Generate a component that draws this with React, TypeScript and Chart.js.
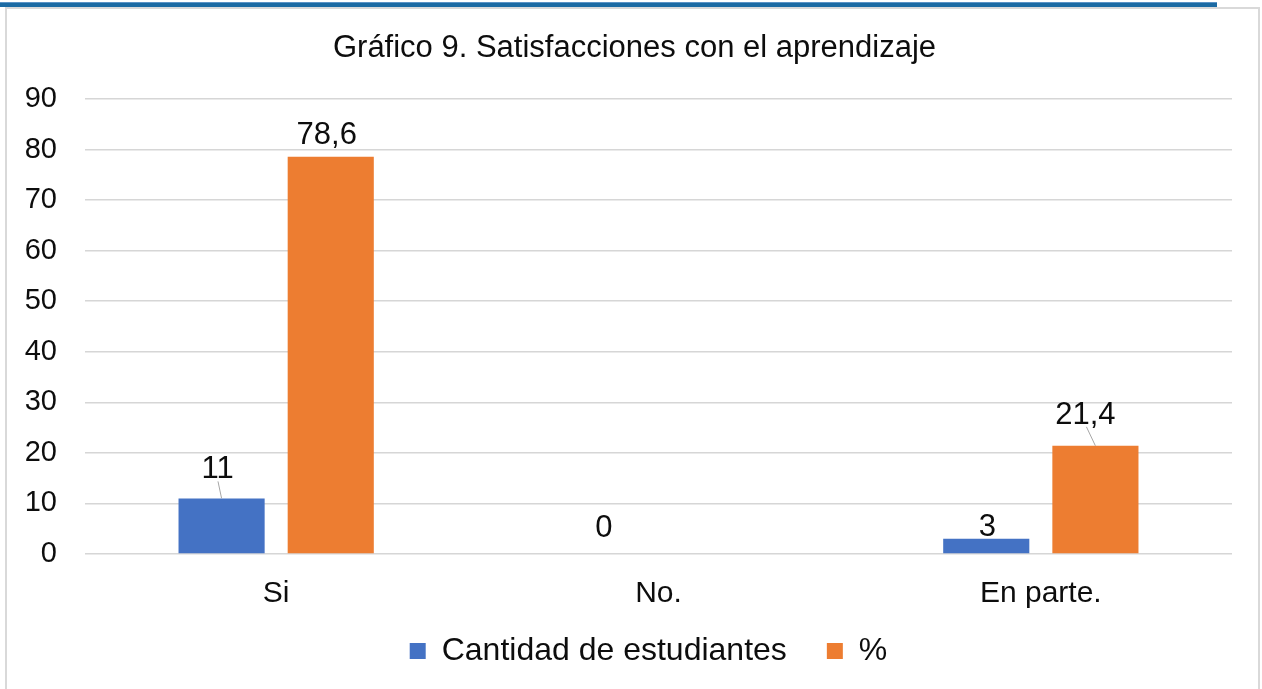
import React, { useEffect, useRef } from "react";
import { Chart, registerables } from "chart.js";

Chart.register(...registerables);

const categories = ["Si", "No.", "En parte."];
const seriesNames = ["Cantidad de estudiantes", "%"];
const cantidadValues = [11, 0, 3];
const percentValues = [78.6, 0, 21.4];
const percentLabelShown = [true, false, true];
const cantidadLabelShown = [true, true, true];
const yTickMin = 0;
const yTickMax = 90;
const yTickStep = 10;
const chartTitle = "Gráfico 9. Satisfacciones con el aprendizaje";

// label placement (offsets of label centre relative to bar top centre) and leader lines
const labelLayout = [
  [
    { dx: -4, dy: -31, leader: true },
    { dx: 0, dy: -28, leader: false },
    { dx: 1, dy: -14, leader: false },
  ],
  [
    { dx: -4, dy: -24, leader: false },
    { dx: 0, dy: -24, leader: false },
    { dx: -10, dy: -33, leader: true },
  ],
];

const FONT = "'Liberation Sans', Arial, Helvetica, sans-serif";
const TEXT = "#0d0d0d";

const fmt = (v: number) => String(v).replace(".", ",");

const labelPlugin = {
  id: "barValueLabels",
  afterDatasetsDraw(chart: any) {
    const ctx = chart.ctx;
    const fs = 31;
    ctx.save();
    ctx.font = `${fs}px ${FONT}`;
    ctx.fillStyle = TEXT;
    ctx.textAlign = "center";
    ctx.textBaseline = "alphabetic";
    chart.data.datasets.forEach((ds: any, di: number) => {
      const meta = chart.getDatasetMeta(di);
      const shown = di === 0 ? cantidadLabelShown : percentLabelShown;
      meta.data.forEach((bar: any, i: number) => {
        if (!shown[i]) return;
        const lay = labelLayout[di][i];
        const cx = bar.x + lay.dx;
        const cy = bar.y + lay.dy;
        const txt = fmt(ds.data[i]);
        ctx.fillText(txt, cx, cy + 0.358 * fs);
        if (lay.leader) {
          ctx.strokeStyle = "#a6a6a6";
          ctx.lineWidth = 1;
          ctx.beginPath();
          ctx.moveTo(cx + (bar.x - cx) * 0.1, cy + 14);
          ctx.lineTo(bar.x, bar.y);
          ctx.stroke();
        }
      });
    });
    ctx.restore();
  },
};

// fine placement of the title and legend blocks (Excel-like layout)
const blockShiftPlugin = {
  id: "blockShift",
  afterLayout(chart: any) {
    const lg = chart.legend;
    if (lg) {
      lg.top -= 17;
      lg.bottom -= 17;
      lg.left += 21;
      lg.right += 21;
    }
    const tb = chart.titleBlock;
    if (tb) {
      tb.left += 7;
      tb.right += 7;
    }
  },
};

export default function App() {
  const ref = useRef<HTMLCanvasElement | null>(null);

  useEffect(() => {
    if (!ref.current) return;
    const chart = new Chart(ref.current, {
      type: "bar",
      data: {
        labels: categories,
        datasets: [
          {
            label: seriesNames[0],
            data: cantidadValues,
            backgroundColor: "#4472C4",
            barPercentage: 0.789,
            categoryPercentage: 0.571,
          },
          {
            label: seriesNames[1],
            data: percentValues,
            backgroundColor: "#ED7D31",
            barPercentage: 0.789,
            categoryPercentage: 0.571,
          },
        ],
      },
      options: {
        responsive: false,
        animation: false,
        devicePixelRatio: 1,
        layout: { padding: { left: 23, right: 30, top: 0, bottom: -5 } },
        plugins: {
          title: {
            display: true,
            text: chartTitle,
            color: TEXT,
            font: { family: FONT, size: 31, weight: "normal" },
            padding: { top: 29.4, bottom: 32.4 },
          },
          legend: {
            position: "bottom",
            labels: {
              color: TEXT,
              font: { family: FONT, size: 32 },
              boxWidth: 16,
              boxHeight: 16,
              padding: 40,
            },
          },
          tooltip: { enabled: false },
        },
        scales: {
          x: {
            grid: { display: false, drawTicks: false },
            border: { display: false },
            ticks: {
              color: TEXT,
              font: { family: FONT, size: 30 },
              padding: 22,
            },
            afterFit(scale: any) {
              scale.height = 58;
            },
          },
          y: {
            min: yTickMin,
            max: yTickMax,
            grid: { color: "#d6d6d6", lineWidth: 1.5, drawTicks: false },
            border: { display: false },
            ticks: {
              stepSize: yTickStep,
              color: TEXT,
              font: { family: FONT, size: 29 },
              padding: 28,
            },
            afterFit(scale: any) {
              scale.width = 62;
            },
          },
        },
      },
      plugins: [labelPlugin, blockShiftPlugin],
    });
    return () => chart.destroy();
  }, []);

  return (
    <div
      style={{
        position: "absolute",
        left: 0,
        top: 0,
        width: 1262,
        height: 689,
        background: "#ffffff",
        overflow: "hidden",
      }}
    >
      <div
        style={{
          position: "absolute",
          left: 0,
          top: 2,
          width: 1217,
          height: 4,
          background: "#1b6aa3",
          borderTop: "1px solid #5a93c6",
        }}
      />
      <div
        style={{
          position: "absolute",
          left: 5,
          top: 7,
          width: 1251,
          height: 700,
          border: "2px solid #d9d9d9",
          borderBottom: "none",
        }}
      />
      <canvas
        ref={ref}
        width={1262}
        height={689}
        style={{ position: "absolute", left: 0, top: 0, width: 1262, height: 689 }}
      />
    </div>
  );
}
